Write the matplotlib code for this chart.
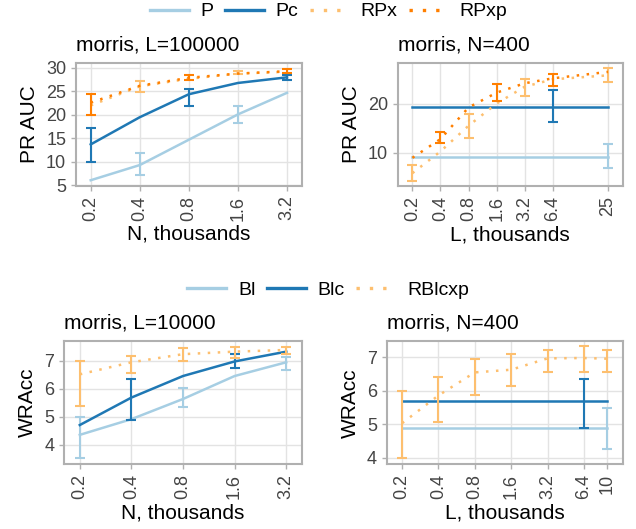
#plot of PR AUC and WRAcc for the morris function (4 panels)
import numpy as np                                          #for nan in the error lists
import matplotlib
matplotlib.use("Agg")
import matplotlib.pyplot as plt                             #for plotting
from matplotlib.ticker import FixedLocator, FixedFormatter, NullLocator
from matplotlib.lines import Line2D

nan = np.nan

#colours (Paired palette)
light_blue = "#a6cee3"
dark_blue = "#1f78b4"
light_orange = "#fdbf6f"
dark_orange = "#ff7f00"

#top left: PR AUC vs N, L=100000
tl_x = [0.2, 0.4, 0.8, 1.6, 3.2]
tl_ticks = ["0.2", "0.4", "0.8", "1.6", "3.2"]
tl_P = [6.06, 9.3, 14.7, 20.1, 24.7]
tl_P_lo = [nan, 7.1, nan, 18.2, nan]
tl_P_hi = [nan, 11.8, nan, 21.8, nan]
tl_Pc = [13.7, 19.5, 24.4, 26.8, 28.0]
tl_Pc_lo = [9.9, nan, 21.9, nan, 27.5]
tl_Pc_hi = [17.3, nan, 25.5, nan, 28.4]
tl_RPx = [22.0, 26.1, 27.7, 28.8, 29.2]
tl_RPx_lo = [nan, 24.8, nan, 28.7, nan]
tl_RPx_hi = [nan, 27.3, nan, 29.3, nan]
tl_RPxp = [22.6, 26.2, 27.9, 28.8, 29.3]
tl_RPxp_lo = [19.9, nan, 27.5, nan, 28.9]
tl_RPxp_hi = [24.4, nan, 28.5, nan, 29.7]

#top right: PR AUC vs L, N=400
tr_x = [0.2, 0.4, 0.8, 1.6, 3.2, 6.4, 25]
tr_ticks = ["0.2", "0.4", "0.8", "1.6", "3.2", "6.4", "25"]
tr_P = [9.2, 9.2, 9.2, 9.2, 9.2, 9.2, 9.2]
tr_P_lo = [nan, nan, nan, nan, nan, nan, 7.0]
tr_P_hi = [nan, nan, nan, nan, nan, nan, 11.8]
tr_Pc = [19.3, 19.3, 19.3, 19.3, 19.3, 19.3, 19.3]
tr_Pc_lo = [nan, nan, nan, nan, nan, 16.3, nan]
tr_Pc_hi = [nan, nan, nan, nan, nan, 22.7, nan]
tr_RPx = [5.9, 10.3, 15.5, 20.0, 23.4, 24.9, 25.7]
tr_RPx_lo = [4.3, nan, 13.0, nan, 21.5, nan, 24.3]
tr_RPx_hi = [7.6, nan, 17.8, nan, 25.0, nan, 27.1]
tr_RPxp = [9.0, 12.8, 19.2, 22.2, 24.1, 25.1, 26.4]
tr_RPxp_lo = [nan, 12.0, nan, 20.5, nan, 23.6, nan]
tr_RPxp_hi = [nan, 14.3, nan, 23.9, nan, 26.0, nan]

#bottom left: WRAcc vs N, L=10000
bl_x = [0.2, 0.4, 0.8, 1.6, 3.2]
bl_ticks = ["0.2", "0.4", "0.8", "1.6", "3.2"]
bl_Bl = [4.36, 4.92, 5.64, 6.46, 6.95]
bl_Bl_lo = [3.52, nan, 5.35, nan, 6.69]
bl_Bl_hi = [5.01, nan, 6.05, nan, 7.15]
bl_Blc = [4.71, 5.69, 6.46, 6.98, 7.33]
bl_Blc_lo = [nan, 4.89, nan, 6.74, nan]
bl_Blc_hi = [nan, 6.37, nan, 7.24, nan]
bl_RBlcxp = [6.52, 6.95, 7.24, 7.33, 7.39]
bl_RBlcxp_lo = [5.39, 6.55, 6.98, 7.12, 7.24]
bl_RBlcxp_hi = [7.0, 7.19, 7.45, 7.51, 7.51]

#bottom right: WRAcc vs L, N=400
br_x = [0.2, 0.4, 0.8, 1.6, 3.2, 6.4, 10]
br_ticks = ["0.2", "0.4", "0.8", "1.6", "3.2", "6.4", "10"]
br_Bl = [4.88, 4.88, 4.88, 4.88, 4.88, 4.88, 4.88]
br_Bl_lo = [nan, nan, nan, nan, nan, nan, 4.25]
br_Bl_hi = [nan, nan, nan, nan, nan, nan, 5.48]
br_Blc = [5.68, 5.68, 5.68, 5.68, 5.68, 5.68, 5.68]
br_Blc_lo = [nan, nan, nan, nan, nan, 4.9, nan]
br_Blc_hi = [nan, nan, nan, nan, nan, 6.36, nan]
br_RBlcxp = [5.03, 5.86, 6.55, 6.63, 6.97, 6.98, 6.96]
br_RBlcxp_lo = [3.98, 5.08, 5.87, 6.15, 6.55, 6.55, 6.56]
br_RBlcxp_hi = [5.98, 6.41, 6.95, 7.11, 7.22, 7.33, 7.21]

plt.rcParams['font.family'] = ['Liberation Sans', 'DejaVu Sans']

solid = "-"
dotted = (0, (1, 3))

def draw(ax, x, y, lo, hi, color, ls):
    #line plus the error bars where there are any
    y = np.array(y, dtype=float)
    lo = np.array(lo, dtype=float)
    hi = np.array(hi, dtype=float)
    lw = 1.8
    ax.plot(x, y, color=color, linestyle=ls, lw=lw)
    ax.errorbar(x, y, yerr=[y - lo, hi - y], fmt="none", ecolor=color,
                elinewidth=1.5, capsize=3.5, capthick=1.5)

def style(ax, x, ticks, ylim, yticks, title, xlabel, ylabel):
    ax.set_xscale("log")
    span = np.log(x[-1]) - np.log(x[0])                     #same margin on both sides in log space
    m = 0.075 * span
    ax.set_xlim(np.exp(np.log(x[0]) - m), np.exp(np.log(x[-1]) + m))
    ax.xaxis.set_major_locator(FixedLocator(x))
    ax.xaxis.set_major_formatter(FixedFormatter(ticks))
    ax.xaxis.set_minor_locator(NullLocator())
    ax.set_ylim(*ylim)
    ax.set_yticks(yticks)
    ax.tick_params(axis="x", labelrotation=90)
    ax.tick_params(labelsize=13, labelcolor="#444444", color="#b0b0b0", length=3.6, width=1, pad=3.5)
    ax.grid(True, color="#e3e3e3", lw=1)
    ax.set_axisbelow(True)
    for s in ax.spines.values():
        s.set_color("#b0b0b0")
        s.set_linewidth(1.5)
    ax.set_title(title, loc="left", fontsize=15, pad=9)
    ax.set_xlabel(xlabel, fontsize=15, labelpad=3)
    ax.set_ylabel(ylabel, fontsize=15, labelpad=5)

fig = plt.figure(figsize=(6.36, 5.29), dpi=100)
ax1 = fig.add_axes([0.1195, 0.649, 0.3549, 0.2314])
ax2 = fig.add_axes([0.6253, 0.6484, 0.3538, 0.2325])
ax3 = fig.add_axes([0.1011, 0.1229, 0.3733, 0.2325])
ax4 = fig.add_axes([0.608, 0.1223, 0.3711, 0.2325])

draw(ax1, tl_x, tl_P, tl_P_lo, tl_P_hi, light_blue, solid)
draw(ax1, tl_x, tl_Pc, tl_Pc_lo, tl_Pc_hi, dark_blue, solid)
draw(ax1, tl_x, tl_RPx, tl_RPx_lo, tl_RPx_hi, light_orange, dotted)
draw(ax1, tl_x, tl_RPxp, tl_RPxp_lo, tl_RPxp_hi, dark_orange, dotted)
style(ax1, tl_x, tl_ticks, (4.9, 31.0), [5, 10, 15, 20, 25, 30],
      "morris, L=100000", "N, thousands", "PR AUC")

draw(ax2, tr_x, tr_P, tr_P_lo, tr_P_hi, light_blue, solid)
draw(ax2, tr_x, tr_Pc, tr_Pc_lo, tr_Pc_hi, dark_blue, solid)
draw(ax2, tr_x, tr_RPx, tr_RPx_lo, tr_RPx_hi, light_orange, dotted)
draw(ax2, tr_x, tr_RPxp, tr_RPxp_lo, tr_RPxp_hi, dark_orange, dotted)
style(ax2, tr_x, tr_ticks, (3.3, 28.2), [10, 20],
      "morris, N=400", "L, thousands", "PR AUC")

draw(ax3, bl_x, bl_Bl, bl_Bl_lo, bl_Bl_hi, light_blue, solid)
draw(ax3, bl_x, bl_Blc, bl_Blc_lo, bl_Blc_hi, dark_blue, solid)
draw(ax3, bl_x, bl_RBlcxp, bl_RBlcxp_lo, bl_RBlcxp_hi, light_orange, dotted)
style(ax3, bl_x, bl_ticks, (3.32, 7.71), [4, 5, 6, 7],
      "morris, L=10000", "N, thousands", "WRAcc")

draw(ax4, br_x, br_Bl, br_Bl_lo, br_Bl_hi, light_blue, solid)
draw(ax4, br_x, br_Blc, br_Blc_lo, br_Blc_hi, dark_blue, solid)
draw(ax4, br_x, br_RBlcxp, br_RBlcxp_lo, br_RBlcxp_hi, light_orange, dotted)
style(ax4, br_x, br_ticks, (3.8, 7.48), [4, 5, 6, 7],
      "morris, N=400", "L, thousands", "WRAcc")

#legends on top of each row
def handle(color, ls):
    return Line2D([], [], color=color, linestyle=ls, lw=2.4)

fig.legend([handle(light_blue, solid), handle(dark_blue, solid),
            handle(light_orange, dotted), handle(dark_orange, dotted)],
           ["P", "Pc", "RPx", "RPxp"], loc="center", bbox_to_anchor=(0.517, 0.978),
           ncol=4, frameon=False, fontsize=14, handlelength=2.0, handletextpad=0.6,
           columnspacing=0.6, borderpad=0)
fig.legend([handle(light_blue, solid), handle(dark_blue, solid), handle(light_orange, dotted)],
           ["Bl", "Blc", "RBlcxp"], loc="center", bbox_to_anchor=(0.516, 0.452),
           ncol=3, frameon=False, fontsize=14, handlelength=2.0, handletextpad=0.6,
           columnspacing=0.6, borderpad=0)

fig.savefig("out.png", dpi=100)
